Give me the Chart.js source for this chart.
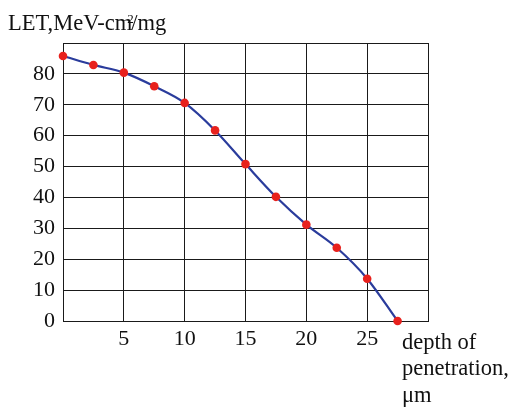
<!DOCTYPE html>
<html>
<head>
<meta charset="utf-8">
<script src="https://cdn.jsdelivr.net/npm/chart.js@4/dist/chart.umd.min.js"></script>
<style>
  html, body { margin: 0; padding: 0; background: #fff; }
  #wrap { width: 514px; height: 408px; position: relative; }
</style>
</head>
<body>
<div id="wrap"><canvas id="c" width="514" height="408"></canvas></div>
<script>
// LET as a function of penetration depth
const depth = [0, 2.5, 5, 7.5, 10, 12.5, 15, 17.5, 20, 22.5, 25, 27.5];
const letValues = [85.8, 82.9, 80.4, 76.0, 70.6, 61.7, 50.8, 40.2, 31.2, 23.7, 13.7, 0];
const xTickLabels = ['', '5', '10', '15', '20', '25', ''];
const yTickLabels = ['0', '10', '20', '30', '40', '50', '60', '70', '80', ''];
const yAxisTitle = ['LET,MeV-cm', '2', '/mg'];
const xAxisTitle = ['depth of', 'penetration,', 'μm'];

const FONT = '"Liberation Serif", "Times New Roman", serif';
const points = depth.map((d, i) => ({ x: d, y: letValues[i] }));

// Axis captions drawn as text on the canvas
const captions = {
  id: 'captions',
  afterDraw(chart) {
    const ctx = chart.ctx;
    ctx.save();
    ctx.fillStyle = '#111';
    ctx.textBaseline = 'alphabetic';
    ctx.textAlign = 'left';
    ctx.font = '22.5px ' + FONT;
    let x = 8;
    const base = 30;
    ctx.fillText(yAxisTitle[0], x, base);
    x += ctx.measureText(yAxisTitle[0]).width;
    ctx.font = '13px ' + FONT;
    ctx.fillText(yAxisTitle[1], x - 5, base - 7);
    ctx.font = '22.5px ' + FONT;
    ctx.fillText(yAxisTitle[2], x - 1, base);

    const x0 = 402;
    xAxisTitle.forEach((t, i) => ctx.fillText(t, x0, 349 + i * 26.3));
    ctx.restore();
  }
};

new Chart(document.getElementById('c'), {
  type: 'scatter',
  data: {
    datasets: [{
      data: points,
      showLine: true,
      borderColor: '#2a3c9c',
      borderWidth: 2.2,
      cubicInterpolationMode: 'monotone',
      pointRadius: 4.3,
      pointHoverRadius: 4.3,
      pointBackgroundColor: '#e8211d',
      pointBorderWidth: 0,
      clip: false
    }]
  },
  options: {
    responsive: false,
    animation: false,
    events: [],
    layout: { padding: { left: 0, top: 43, right: 86, bottom: 0 } },
    plugins: { legend: { display: false }, tooltip: { enabled: false } },
    scales: {
      x: {
        type: 'linear',
        min: 0, max: 30,
        afterBuildTicks(s) { s.ticks = xTickLabels.map((_, i) => ({ value: i * 5 })); },
        afterFit(s) { s.height = 87; },
        grid: { color: '#1a1a1a', lineWidth: 1, drawTicks: false },
        border: { color: '#1a1a1a', width: 1 },
        ticks: {
          padding: 5,
          maxRotation: 0,
          autoSkip: false,
          color: '#111',
          font: { family: FONT, size: 22 },
          callback: (v, i) => xTickLabels[i]
        }
      },
      y: {
        type: 'linear',
        min: 0, max: 90,
        afterBuildTicks(s) { s.ticks = yTickLabels.map((_, i) => ({ value: i * 10 })); },
        afterFit(s) { s.width = 63; },
        grid: { color: '#1a1a1a', lineWidth: 1, drawTicks: false },
        border: { color: '#1a1a1a', width: 1 },
        ticks: {
          padding: 8,
          autoSkip: false,
          color: '#111',
          font: { family: FONT, size: 22 },
          callback: (v, i) => yTickLabels[i]
        }
      }
    }
  },
  plugins: [captions]
});
</script>
</body>
</html>
